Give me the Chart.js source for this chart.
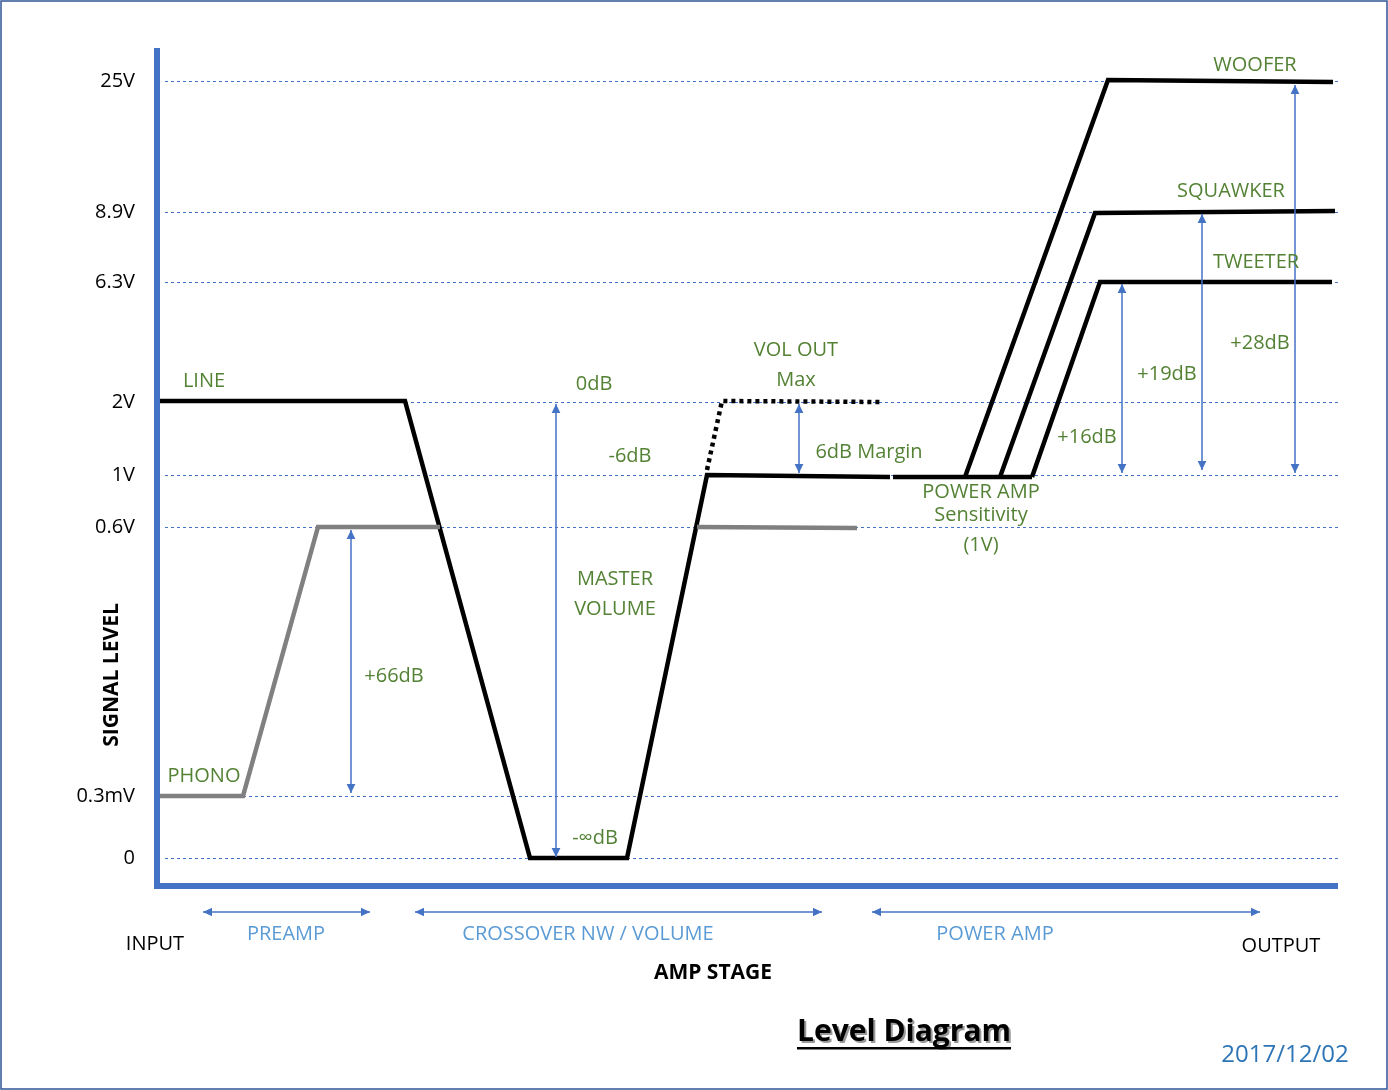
<!DOCTYPE html>
<html>
<head>
<meta charset="utf-8">
<script src="https://cdn.jsdelivr.net/npm/chart.js@4/dist/chart.umd.min.js"></script>
<style>
  html, body { margin: 0; padding: 0; background: #fff; }
  #wrap { width: 1388px; height: 1090px; }
</style>
</head>
<body>
<div id="wrap"><canvas id="c"></canvas></div>
<script>
// y unit = height above x axis, x unit = distance from y axis
const levelLabels = ['0', '0.3mV', '0.6V', '1V', '2V', '6.3V', '8.9V', '25V'];
const levelValues = [25, 87, 356, 408, 481, 601, 671, 802];

const lineX = [3, 248, 373, 470, 550, 733];
const lineY = [482, 482, 25, 25, 408, 406];
const ampX = [736, 875];
const ampY = [406, 406];
const wooferX = [808, 951, 1176];
const wooferY = [406, 803, 801];
const squawkerX = [843, 938, 1178];
const squawkerY = [406, 670, 672];
const tweeterX = [875, 943, 1175];
const tweeterY = [406, 601, 601];
const volMaxX = [550, 565, 725];
const volMaxY = [413, 482, 481];
const phonoX = [3, 86, 161, 283];
const phonoY = [87, 87, 356, 356];
const phonoOutX = [540, 700];
const phonoOutY = [356, 355];

// [x1, y1, x2, y2] double-headed arrows
const vArrows = [[194, 353, 194, 90], [399, 479, 399, 26], [642, 479, 642, 410],
                 [965, 599, 965, 410], [1045, 669, 1045, 413], [1138, 798, 1138, 410]];
const hArrows = [[46, -29, 213, -29], [258, -29, 665, -29], [715, -29, 1103, -29]];

const greenText = [
  ['LINE', 47, 502], ['PHONO', 47, 107], ['+66dB', 237, 207], ['0dB', 437, 499],
  ['-6dB', 473, 427], ['MASTER', 458, 304], ['VOLUME', 458, 274], ['-\u221EdB', 438, 45],
  ['VOL OUT', 639, 533], ['Max', 639, 503], ['6dB Margin', 712, 431],
  ['POWER AMP', 824, 391], ['Sensitivity', 824, 368], ['(1V)', 824, 338],
  ['+16dB', 930, 446], ['+19dB', 1010, 509], ['+28dB', 1103, 540],
  ['WOOFER', 1098, 818], ['SQUAWKER', 1074, 692], ['TWEETER', 1099, 621]
];
const blueText = [['PREAMP', 129, -51], ['CROSSOVER NW / VOLUME', 431, -51], ['POWER AMP', 838, -51]];

const FONT = '"Open Sans", "DejaVu Sans", sans-serif';
const BLUE = '#4472c4';

function pts(xs, ys) { return xs.map((x, i) => ({ x: x, y: ys[i] })); }
function ds(xs, ys, color, dash) {
  return { data: pts(xs, ys), borderColor: color, borderWidth: 4.5, pointRadius: 0,
           borderDash: dash || [], fill: false, tension: 0 };
}

function arrowHead(ctx, x, y, ang) {
  ctx.beginPath();
  ctx.moveTo(x, y);
  ctx.lineTo(x - 10 * Math.cos(ang - 0.45), y - 10 * Math.sin(ang - 0.45));
  ctx.lineTo(x - 10 * Math.cos(ang + 0.45), y - 10 * Math.sin(ang + 0.45));
  ctx.closePath();
  ctx.fill();
}

const decor = {
  id: 'decor',
  beforeDatasetsDraw(chart) {
    const { ctx, scales: { x, y } } = chart;
    ctx.save();
    ctx.strokeStyle = BLUE;
    ctx.lineWidth = 1;
    ctx.setLineDash([3, 3]);
    levelValues.forEach(v => {
      const py = Math.round(y.getPixelForValue(v)) + 0.5;
      ctx.beginPath();
      ctx.moveTo(165, py);
      ctx.lineTo(1338, py);
      ctx.stroke();
    });
    ctx.restore();
  },
  afterDraw(chart) {
    const { ctx, scales: { x, y } } = chart;
    ctx.save();
    // axes
    ctx.strokeStyle = BLUE;
    ctx.lineWidth = 6;
    ctx.beginPath();
    ctx.moveTo(157, 48);
    ctx.lineTo(157, 886);
    ctx.lineTo(1338, 886);
    ctx.stroke();
    // arrows
    ctx.fillStyle = BLUE;
    ctx.lineWidth = 1.5;
    vArrows.concat(hArrows).forEach(a => {
      const x1 = x.getPixelForValue(a[0]), y1 = y.getPixelForValue(a[1]);
      const x2 = x.getPixelForValue(a[2]), y2 = y.getPixelForValue(a[3]);
      ctx.beginPath();
      ctx.moveTo(x1, y1);
      ctx.lineTo(x2, y2);
      ctx.stroke();
      const ang = Math.atan2(y2 - y1, x2 - x1);
      arrowHead(ctx, x2, y2, ang);
      arrowHead(ctx, x1, y1, ang + Math.PI);
    });
    // texts
    ctx.textAlign = 'center';
    ctx.textBaseline = 'middle';
    ctx.font = '20px ' + FONT;
    ctx.fillStyle = '#548235';
    greenText.forEach(t => ctx.fillText(t[0], x.getPixelForValue(t[1]), y.getPixelForValue(t[2])));
    ctx.fillStyle = '#5b9bd5';
    blueText.forEach(t => ctx.fillText(t[0], x.getPixelForValue(t[1]), y.getPixelForValue(t[2])));
    ctx.fillStyle = '#000';
    ctx.fillText('INPUT', 155, 944);
    ctx.fillText('OUTPUT', 1281, 946);
    ctx.font = 'bold 21px ' + FONT;
    ctx.fillText('AMP STAGE', 713, 973);
    ctx.save();
    ctx.translate(112, 675);
    ctx.rotate(-Math.PI / 2);
    ctx.fillText('SIGNAL LEVEL', 0, 0);
    ctx.restore();
    // title
    ctx.font = 'bold 30px ' + FONT;
    ctx.fillStyle = '#999';
    ctx.fillText('Level Diagram', 906, 1034);
    ctx.fillStyle = '#000';
    ctx.fillText('Level Diagram', 904, 1032);
    const w = ctx.measureText('Level Diagram').width;
    ctx.fillRect(904 - w / 2, 1047, w, 2.5);
    ctx.font = '24px ' + FONT;
    ctx.fillStyle = '#2e75b6';
    ctx.fillText('2017/12/02', 1285, 1055);
    // frame
    ctx.strokeStyle = '#2f5597';
    ctx.lineWidth = 1.5;
    ctx.strokeRect(1, 1, 1386, 1088);
    ctx.restore();
  }
};

new Chart(document.getElementById('c'), {
  type: 'line',
  data: {
    datasets: [
      ds(phonoX, phonoY, '#808080'),
      ds(phonoOutX, phonoOutY, '#808080'),
      ds(volMaxX, volMaxY, '#000', [4, 4]),
      ds(lineX, lineY, '#000'),
      ds(ampX, ampY, '#000'),
      ds(wooferX, wooferY, '#000'),
      ds(squawkerX, squawkerY, '#000'),
      ds(tweeterX, tweeterY, '#000')
    ]
  },
  options: {
    responsive: true,
    maintainAspectRatio: false,
    animation: false,
    layout: { padding: { top: 50, right: 50, left: 0, bottom: 0 } },
    plugins: { legend: { display: false }, tooltip: { enabled: false } },
    scales: {
      x: {
        type: 'linear', min: 0, max: 1181,
        display: true,
        grid: { display: false, drawTicks: false },
        border: { display: false },
        ticks: { display: false },
        afterFit: s => { s.height = 1090 - 883; }
      },
      y: {
        type: 'linear', min: 0, max: 833,
        grid: { display: false },
        border: { display: false },
        afterFit: s => { s.width = 157; },
        afterBuildTicks: s => { s.ticks = levelValues.map(v => ({ value: v })); },
        ticks: {
          color: '#000',
          font: { size: 20, family: FONT },
          padding: 14,
          callback: (v) => levelLabels[levelValues.indexOf(v)]
        }
      }
    }
  },
  plugins: [decor]
});
</script>
</body>
</html>
